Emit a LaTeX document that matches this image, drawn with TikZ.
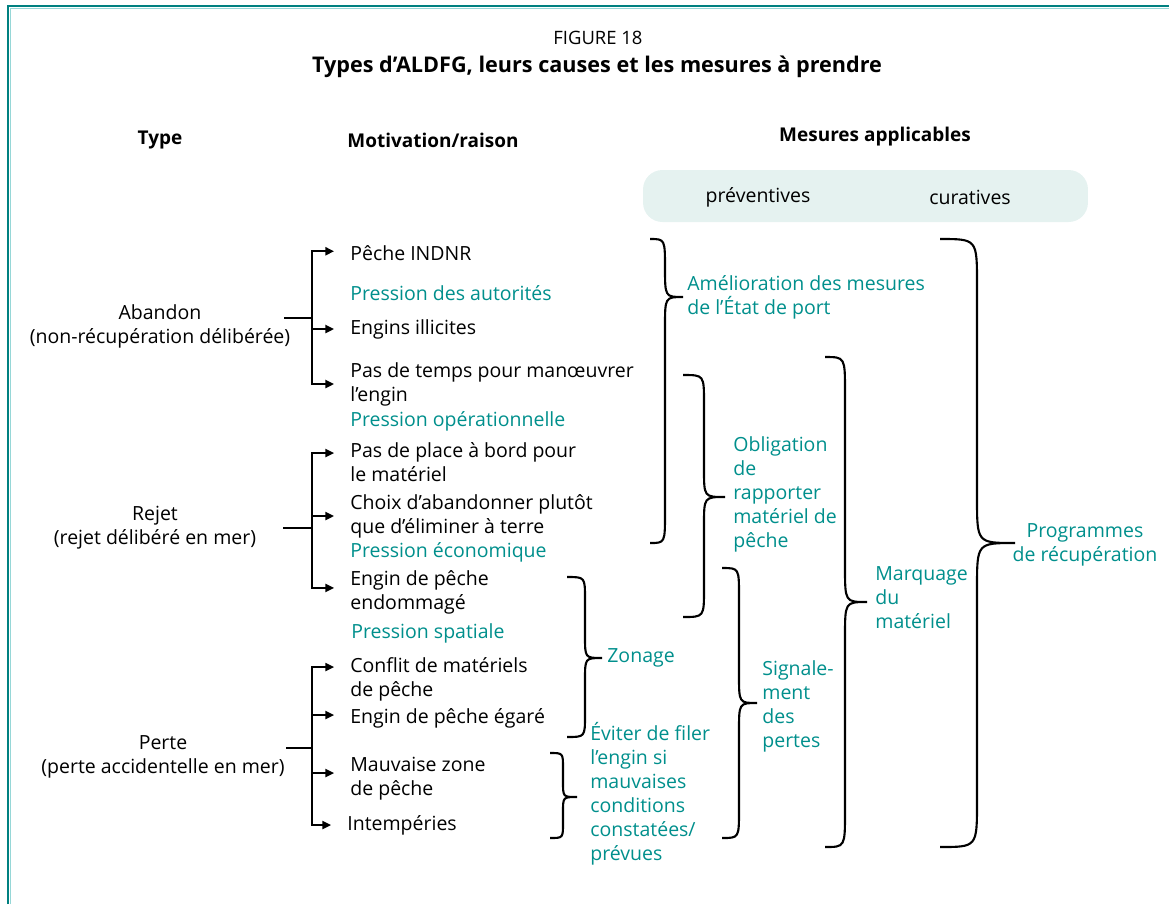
\documentclass[tikz,border=0pt]{standalone}
\usepackage{fontspec}
\setmainfont{Open Sans}
\usepackage{tikz}
\usetikzlibrary{arrows.meta, calc}
\definecolor{FAOTeal}{RGB}{0,143,140}
\definecolor{FAOFrame}{RGB}{0,128,128}
\definecolor{FAOLight}{RGB}{150,215,215}
\definecolor{FAOPale}{RGB}{229,242,240}

% right-hand curly brace: x end, x stem, x tip, y top, y tip, y bottom, curl
\newcommand{\curly}[7]{%
  \draw[brc] (#1,#4) .. controls (#2,#4) .. (#2,#4+#7)
    -- (#2,#5-#7) .. controls (#2,#5) .. (#3,#5)
    .. controls (#2,#5) .. (#2,#5+#7)
    -- (#2,#6-#7) .. controls (#2,#6) .. (#1,#6);}

\begin{document}
\begin{tikzpicture}[x=0.02cm, y=-0.02cm,
          txt/.style={font=\fontsize{11.1}{13.66}\selectfont,
                      inner sep=0pt, align=left},
          typ/.style={txt, align=center},
          cause/.style={txt, anchor=west},
          press/.style={txt, anchor=west, text=FAOTeal},
          mes/.style={txt, anchor=west, text=FAOTeal},
          head/.style={font=\fontsize{10.8}{12}\selectfont\bfseries, inner sep=0pt},
          pill/.style={rectangle, rounded corners=11pt, fill=FAOPale,
                       minimum width=8.9cm, minimum height=1.04cm},
          bar/.style={line width=1.3pt},
          arr/.style={-{Triangle[length=5pt, width=4.5pt]}, line width=1.3pt,
                      shorten >=9pt},
          brc/.style={line width=1.2pt}
        ]
        \useasboundingbox (0,0) rectangle (1169,904);

        % Frame
        \draw[FAOLight, line width=0.6pt] (10.5,904) -- (10.5,8.5) -- (1169,8.5);
        \draw[FAOFrame, line width=1.3pt] (8,904) -- (8,6) -- (1169,6);

        % Title
        \node[font=\fontsize{10.5}{13}\selectfont] (fig) at (598,38) {FIGURE 18};
        \node[font=\fontsize{12.3}{14}\selectfont\bfseries] (tit) at (597,67)
              {Types d’ALDFG, leurs causes et les mesures à prendre};

        % Column heads
        \node[head] (hty) at (160,140) {Type};
        \node[head] (hmo) at (433,140) {Motivation/raison};
        \node[head] (hme) at (875,137) {Mesures applicables};
        \node[pill] (pil) at (865.5,196) {};
        \node[txt] (pre) at (758,197) {préventives};
        \node[txt] (cur) at (970,197) {curatives};

        % Types
        \node[typ] (ab) at (160,326) {Abandon\\(non-récupération délibérée)};
        \node[typ] (rj) at (155,528) {Rejet\\(rejet délibéré en mer)};
        \node[typ] (pe) at (163,757) {Perte\\(perte accidentelle en mer)};

        % Motivations
        \node[cause] (m1)  at (350,253) {Pêche INDNR};
        \node[press] (p1)  at (350,293) {Pression des autorités};
        \node[cause] (m2)  at (350,329) {Engins illicites};
        \node[cause] (m3)  at (350,384) {Pas de temps pour manœuvrer\\l’engin};
        \node[press] (p2)  at (350,421) {Pression opérationnelle};
        \node[cause] (m4)  at (350,462) {Pas de place à bord pour\\le matériel};
        \node[cause] (m5)  at (350,516) {Choix d’abandonner plutôt\\que d’éliminer à terre};
        \node[press] (p3)  at (350,552) {Pression économique};
        \node[cause] (m6)  at (350,592) {Engin de pêche\\endommagé};
        \node[press] (p4)  at (351,633) {Pression spatiale};
        \node[cause] (m7)  at (350,679) {Conflit de matériels\\de pêche};
        \node[cause] (m8)  at (350,718) {Engin de pêche égaré};
        \node[cause] (m9)  at (350,779) {Mauvaise zone\\de pêche};
        \node[cause] (m10) at (347,825) {Intempéries};

        % Junctions
        \coordinate (sa) at (284,318); \coordinate (ja) at (312,318);
        \coordinate (sr) at (283,528); \coordinate (jr) at (312,528);
        \coordinate (sp) at (286,748); \coordinate (jp) at (312,748);

        % Arrows
        \draw[bar] (sa) -- (ja);
        \draw[arr] (ja) |- ([yshift=1pt]m1.west);
        \draw[arr] (ja) |- (m2.west);
        \draw[arr] (ja) |- (m3.west);
        \draw[bar] (sr) -- (jr);
        \draw[arr] (jr) |- ([yshift=5.1pt]m4.west);
        \draw[arr] (jr) |- (m5.west);
        \draw[arr] (jr) |- ([yshift=2.3pt]m6.west);
        \draw[bar] (sp) -- (jp);
        \draw[arr] (jp) |- ([yshift=6.8pt]m7.west);
        \draw[arr] (jp) |- ([yshift=1.7pt]m8.west);
        \draw[arr] (jp) |- ([yshift=3.4pt]m9.west);
        \draw[arr] (jp) |- (m10.west);

        % Braces
        \curly{650}{665}{683}{239}{297}{543}{30}
        \curly{683}{704}{725}{375}{497}{617}{28}
        \curly{567}{585}{602}{577}{658}{737}{22}
        \curly{550}{563}{577}{753}{797}{838}{15}
        \curly{722}{739}{757}{568}{703}{838}{28}
        \curly{825}{845}{867}{357}{602}{847}{35}
        \curly{940}{977}{1015}{239}{543}{847}{45}

        % Measures
        \node[mes] (am) at (687,297) {Amélioration des mesures\\de l’État de port};
        \node[mes] (ob) at (733,494) {Obligation\\de\\rapporter\\matériel de\\pêche};
        \node[mes] (zo) at (607,658) {Zonage};
        \node[mes] (ev) at (590,794)
              {Éviter de filer\\l’engin si\\mauvaises\\conditions\\constatées/\\prévues};
        \node[mes] (si) at (762,706) {Signale-\\ment\\des\\pertes};
        \node[mes] (ma) at (875,598) {Marquage\\du\\matériel};
        \node[mes, align=center, anchor=center] (pr) at (1085,545)
              {Programmes\\de récupération};
      \end{tikzpicture}
\end{document}
